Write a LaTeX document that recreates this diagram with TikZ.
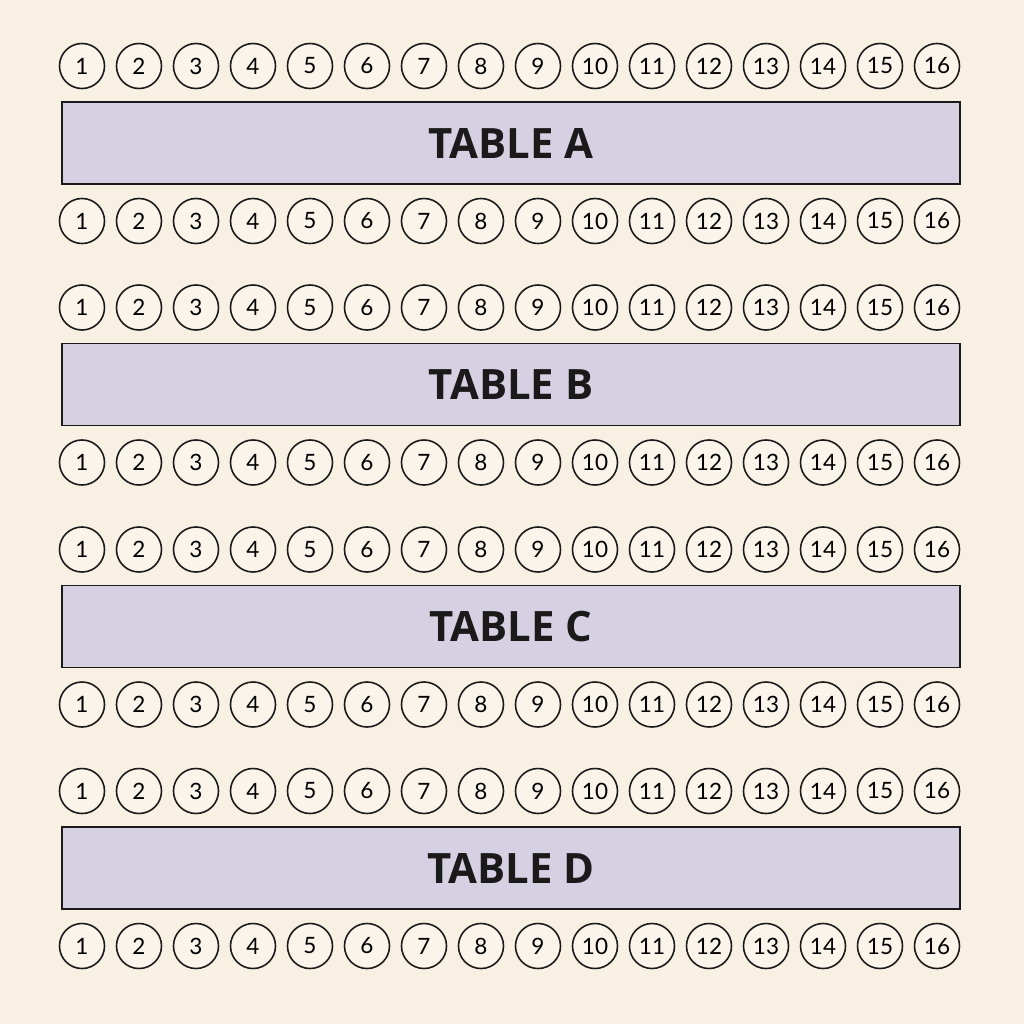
\documentclass[tikz,border=0pt]{standalone}
\usepackage{fontspec}
\setmainfont{Lato}
\newfontfamily\titlefont{Open Sans}
\usepackage{tikz}
\definecolor{paper}{HTML}{F8F0E2}
\definecolor{tablefill}{HTML}{D6D0E3}
\definecolor{ink}{HTML}{1A1A1A}

\begin{document}
\begin{tikzpicture}[x=0.01cm, y=-0.01cm,
        seat/.style={circle, draw=ink, line width=0.45pt, fill=paper!70!white, minimum size=0.45cm, inner sep=0pt, font=\fontsize{6.4}{7}\selectfont},
        tablebox/.style={rectangle, draw=ink, line width=0.5pt, fill=tablefill, minimum width=8.98cm, minimum height=0.82cm, inner sep=0pt, font=\titlefont\fontsize{11.9}{13}\selectfont\bfseries}]
        \fill[paper] (0, 0) rectangle (1024, 1024);
        \useasboundingbox (0, 0) rectangle (1024, 1024);

        \foreach \t/\ty in {A/143, B/384.5, C/626.5, D/868} {
            \node[tablebox, text=ink] at (511, \ty) (tab\t) {\raisebox{-0.6pt}{TABLE \t}};
            \foreach \s in {1,...,16} {
                \node[seat] at ({82 + 57*(\s-1)}, \ty - 77) (top\t\s) {\s};
                \node[seat] at ({82 + 57*(\s-1)}, \ty + 78) (bot\t\s) {\s};
            }
        }
    \end{tikzpicture}
\end{document}
